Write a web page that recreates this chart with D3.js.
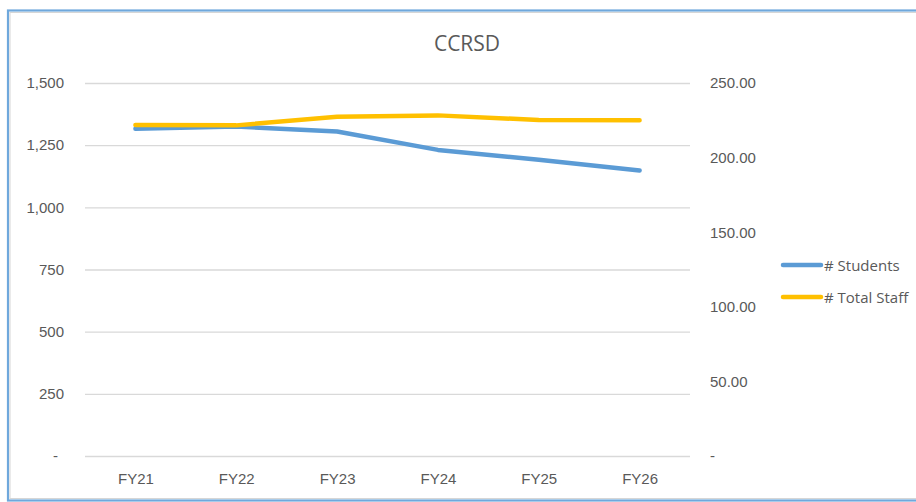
<!DOCTYPE html>
<html>
<head>
<meta charset="utf-8">
<script src="https://cdn.jsdelivr.net/npm/d3@7"></script>
<style>
  body { margin: 0; background: #fff; }
  svg { display: block; font-family: "Open Sans", sans-serif; }
  .axis text { fill: #595959; font-size: 15px; }
  .axis path, .axis line { display: none; }
</style>
</head>
<body>
<svg id="chart" width="916" height="502"></svg>
<script>
// chart data
const years = ["FY21", "FY22", "FY23", "FY24", "FY25", "FY26"];
const students = [1316, 1325, 1305, 1231, 1191, 1148];
const totalStaff = [221.8, 221.6, 227.4, 228.3, 225.2, 225.0];
const leftTicks = [0, 250, 500, 750, 1000, 1250, 1500];
const rightTicks = [0, 50, 100, 150, 200, 250];
const seriesNames = ["# Students", "# Total Staff"];
const seriesColors = ["#5B9BD5", "#FFC000"];

const svg = d3.select("#chart");
const plotLeft = 85, plotRight = 690, plotTop = 83, plotBottom = 456;

// outer frame
svg.append("rect")
    .attr("x", 8).attr("y", 10.5)
    .attr("width", 940).attr("height", 490)
    .attr("fill", "none")
    .attr("stroke", "#6FA8DC")
    .attr("stroke-width", 2.2);
svg.append("rect")
    .attr("x", 10).attr("y", 12.5)
    .attr("width", 940).attr("height", 486)
    .attr("fill", "none")
    .attr("stroke", "#D6D6D6")
    .attr("stroke-width", 1);

const x = d3.scalePoint().domain(years).range([plotLeft, plotRight]).padding(0.5);
const yLeft = d3.scaleLinear().domain([0, 1500]).range([plotBottom, plotTop]);
const yRight = d3.scaleLinear().domain([0, 250]).range([plotBottom, plotTop]);

// gridlines
svg.append("g")
    .selectAll("line")
    .data(leftTicks)
    .join("line")
    .attr("x1", plotLeft).attr("x2", plotRight)
    .attr("y1", d => yLeft(d) + 0.5).attr("y2", d => yLeft(d) + 0.5)
    .attr("stroke", "#D9D9D9")
    .attr("stroke-width", 1.3);

// left axis
const fmtLeft = d => d === 0 ? "-" : d3.format(",")(d);
const gLeft = svg.append("g")
    .attr("class", "axis")
    .attr("transform", `translate(${plotLeft - 21}, 0)`)
    .call(d3.axisLeft(yLeft).tickValues(leftTicks).tickFormat(fmtLeft).tickSize(0).tickPadding(0));
gLeft.selectAll(".tick").filter(d => d === 0).select("text").attr("dx", -6);

// right axis
const fmtRight = d => d === 0 ? "-" : d3.format(".2f")(d);
svg.append("g")
    .attr("class", "axis")
    .attr("transform", `translate(${plotRight + 20}, 0)`)
    .call(d3.axisRight(yRight).tickValues(rightTicks).tickFormat(fmtRight).tickSize(0).tickPadding(0));

// x axis
svg.append("g")
    .attr("class", "axis")
    .attr("transform", `translate(0, ${plotBottom + 17})`)
    .call(d3.axisBottom(x).tickSize(0).tickPadding(0));

// lines
const lineLeft = d3.line().x((d, i) => x(years[i])).y(d => yLeft(d));
const lineRight = d3.line().x((d, i) => x(years[i])).y(d => yRight(d));

svg.append("path")
    .datum(students)
    .attr("d", lineLeft)
    .attr("fill", "none")
    .attr("stroke", seriesColors[0])
    .attr("stroke-width", 4.5)
    .attr("stroke-linecap", "round")
    .attr("stroke-linejoin", "round");

svg.append("path")
    .datum(totalStaff)
    .attr("d", lineRight)
    .attr("fill", "none")
    .attr("stroke", seriesColors[1])
    .attr("stroke-width", 4.5)
    .attr("stroke-linecap", "round")
    .attr("stroke-linejoin", "round");

// title
svg.append("text")
    .attr("x", 467).attr("y", 43)
    .attr("text-anchor", "middle")
    .attr("dominant-baseline", "central")
    .attr("fill", "#595959")
    .style("font-size", "21px")
    .text("CCRSD");

// legend
const legend = svg.append("g")
    .selectAll("g")
    .data(seriesNames)
    .join("g")
    .attr("transform", (d, i) => `translate(783, ${265 + i * 32})`);

legend.append("line")
    .attr("x1", 0).attr("x2", 38)
    .attr("stroke", (d, i) => seriesColors[i])
    .attr("stroke-width", 4.5)
    .attr("stroke-linecap", "round");

legend.append("text")
    .attr("x", 41)
    .attr("dominant-baseline", "central")
    .attr("fill", "#595959")
    .style("font-size", "15px")
    .text(d => d);
</script>
</body>
</html>
